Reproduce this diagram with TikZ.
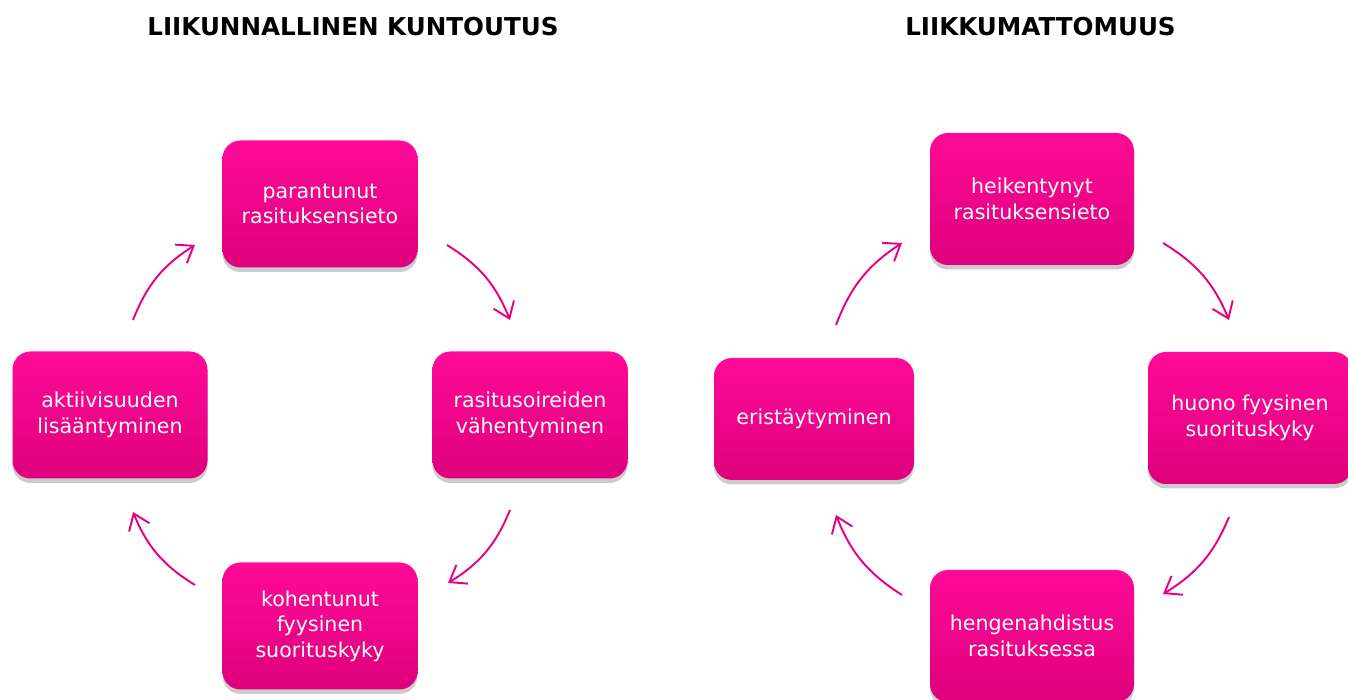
\documentclass[tikz,border=0pt]{standalone}
\usepackage{fontspec}
\setmainfont{DejaVu Sans}
\usepackage{tikz}
\usetikzlibrary{arrows,arrows.meta,shapes,shadows}
\definecolor{boxtop}{RGB}{255,10,152}
\definecolor{boxbot}{RGB}{222,0,124}
\definecolor{arrowpink}{RGB}{232,0,130}
\tikzstyle{box}=[rounded corners=0.36cm
,minimum width=3.9cm
,minimum height=2.54cm
,top color=boxtop, bottom color=boxbot
,draw=none
,text=white
,align=center
,font=\fontsize{11.7}{14.5}\selectfont
,drop shadow={opacity=0.4, shadow xshift=0cm, shadow yshift=-0.09cm}
]
\tikzstyle{wide box} = [box, minimum width=4.08cm, minimum height=2.64cm]
\tikzstyle{title} = [font=\fontsize{14}{16}\selectfont\bfseries]
\tikzstyle{cycle edge} = [draw, arrowpink, line width=1.1pt, -{Straight Barb[length=3mm,width=4.4mm]}]

\begin{document}
\begin{tikzpicture}
    \useasboundingbox (0,0) rectangle (26.96,14);
    % Titles
    \node[title] (lefttitle) at (7.06,13.46) {LIIKUNNALLINEN KUNTOUTUS};
    \node[title] (righttitle) at (20.81,13.46) {LIIKKUMATTOMUUS};

    % Left cycle: boxes
    \foreach \pos/\name/\txt in {{(6.40,9.92)/parantunut/{parantunut\\rasituksensieto}},
        {(10.60,5.70)/rasitus/{rasitusoireiden\\vähentyminen}},
        {(6.40,1.48)/kohentunut/{kohentunut\\fyysinen\\suorituskyky}},
        {(2.20,5.70)/aktiivisuus/{aktiivisuuden\\lisääntyminen}}}
        \node[box] (\name) at \pos {\txt};

    % Right cycle: boxes
    \foreach \pos/\name/\txt in {{(20.64,10.02)/heikentynyt/{heikentynyt\\rasituksensieto}},
        {(25.00,5.64)/huono/{huono fyysinen\\suorituskyky}},
        {(20.64,1.28)/hengenahdistus/{hengenahdistus\\rasituksessa}}}
        \node[wide box] (\name) at \pos {\txt};
    \node[wide box, minimum width=4.0cm, minimum height=2.44cm] (eristaytyminen) at (16.28,5.62) {eristäytyminen};

    % Arrow ends
    \foreach \pos/\name in {{(2.66,7.60)/L1s}, {(3.90,9.10)/L1e}, {(8.94,9.10)/L2s}, {(10.20,7.60)/L2e},
        {(10.20,3.80)/L3s}, {(8.96,2.34)/L3e}, {(3.90,2.30)/L4s}, {(2.66,3.76)/L4e},
        {(16.72,7.50)/R1s}, {(18.04,9.14)/R1e}, {(23.26,9.14)/R2s}, {(24.58,7.60)/R2e},
        {(24.58,3.66)/R3s}, {(23.26,2.12)/R3e}, {(18.04,2.10)/R4s}, {(16.72,3.70)/R4e}}
        \path \pos coordinate (\name);

    % Connect the cycles
    \foreach \source/ \dest in {L1s/L1e, L2s/L2e, L3s/L3e, L4s/L4e, R1s/R1e, R2s/R2e, R3s/R3e, R4s/R4e}
        \path[cycle edge] (\source) to[bend left=18] (\dest);

\end{tikzpicture}
\end{document}
